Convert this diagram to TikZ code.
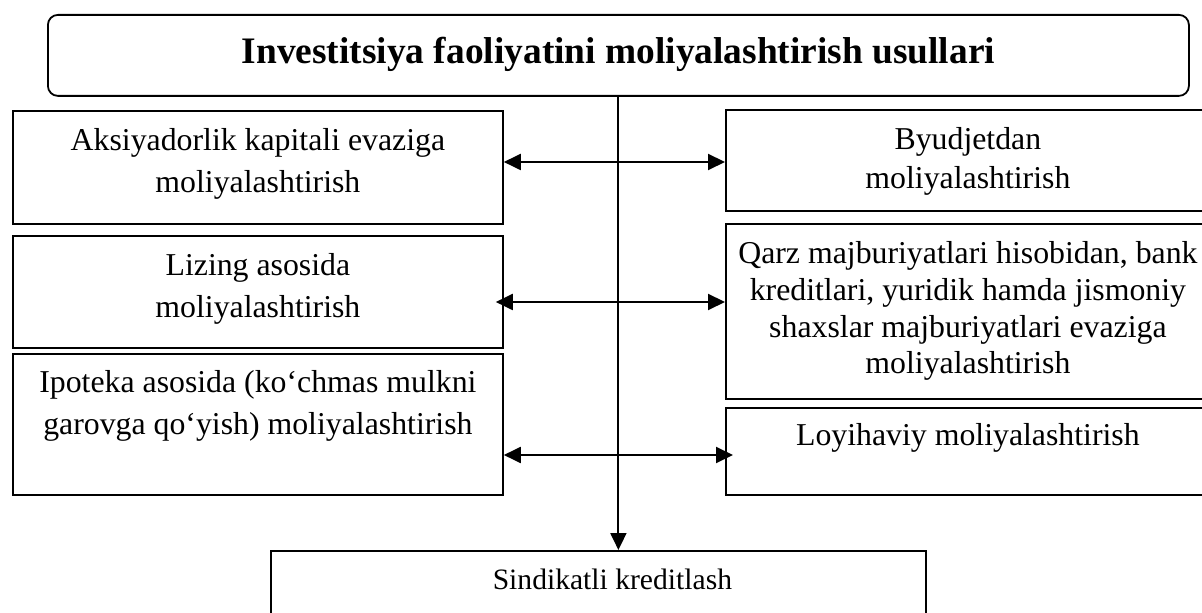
\documentclass[tikz,border=0pt]{standalone}
\usepackage{fontspec}
\setmainfont{Liberation Serif}
\usetikzlibrary{arrows.meta}

\begin{document}
\begin{tikzpicture}[x=0.5pt,y=-0.5pt,
    box/.style={draw, line width=0.9pt, anchor=north west, inner sep=0pt},
    txt/.style={anchor=north, align=center, inner sep=0pt, yshift=-9.2pt, font=\fontsize{15.9}{20.8}\selectfont},
    link/.style={line width=1pt, -{Triangle[length=8.5pt,width=8pt]}},
    biarrow/.style={line width=1pt, {Triangle[length=8.5pt,width=8pt]}-{Triangle[length=8.5pt,width=8pt]}}]
            \clip (0,0) rectangle (1202,613);

            % title
            \node[box, rounded corners=5pt, minimum width=570.5pt, minimum height=40.5pt] (title) at (47,14) {};
            \node[txt, yshift=-2.4pt, font=\fontsize{18.7}{22}\selectfont\bfseries] (title-t) at (title.north) {Investitsiya faoliyatini moliyalashtirish usullari};

            % left column
            \node[box, minimum width=245pt, minimum height=56.5pt] (aksiya) at (12,110) {};
            \node[box, minimum width=245pt, minimum height=56pt] (lizing) at (12,235) {};
            \node[box, minimum width=245pt, minimum height=70.5pt] (ipoteka) at (12,353) {};
            \node[txt] (aksiya-t) at (aksiya.north) {Aksiyadorlik kapitali evaziga\\moliyalashtirish};
            \node[txt] (lizing-t) at (lizing.north) {Lizing asosida\\moliyalashtirish};
            \node[txt, yshift=0.5pt] (ipoteka-t) at (ipoteka.north) {Ipoteka asosida (ko‘chmas mulkni\\garovga qo‘yish) moliyalashtirish};

            % right column
            \node[box, minimum width=242pt, minimum height=50.5pt] (byudjet) at (725,109) {};
            \node[box, minimum width=242pt, minimum height=87.5pt] (qarz) at (725,223) {};
            \node[box, minimum width=242pt, minimum height=43.5pt] (loyiha) at (725,407) {};
            \node[txt, font=\fontsize{15.9}{19.2}\selectfont] (byudjet-t) at (byudjet.north) {Byudjetdan\\moliyalashtirish};
            \node[txt, font=\fontsize{15.9}{18.3}\selectfont] (qarz-t) at (qarz.north) {Qarz majburiyatlari hisobidan, bank\\kreditlari, yuridik hamda jismoniy\\shaxslar majburiyatlari evaziga\\moliyalashtirish};
            \node[txt, yshift=1pt] (loyiha-t) at (loyiha.north) {Loyihaviy moliyalashtirish};

            % bottom
            \node[box, minimum width=327.5pt, minimum height=45pt] (sindik) at (270,550) {};
            \node[txt, xshift=7pt, font=\fontsize{14.8}{18}\selectfont] (sindik-t) at (sindik.north) {Sindikatli kreditlash};

            \coordinate (r1) at (617,162);
            \coordinate (r2) at (617,302);
            \coordinate (r3) at (617,455);

            \draw[link] (title.south) -- (title.south |- sindik.north);
            \draw[biarrow] (aksiya.east |- r1) -- (byudjet.west |- r1);
            \draw[biarrow, shorten <=-4pt] (lizing.east |- r2) -- (qarz.west |- r2);
            \draw[biarrow, shorten >=-4pt] (ipoteka.east |- r3) -- (loyiha.west |- r3);
        \end{tikzpicture}
\end{document}
